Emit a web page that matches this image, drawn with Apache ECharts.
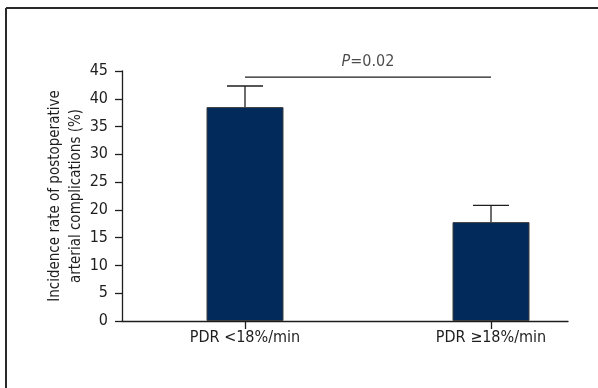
<!DOCTYPE html>
<html>
<head>
<meta charset="utf-8">
<script src="https://cdn.jsdelivr.net/npm/echarts@6/dist/echarts.min.js"></script>
<style>
html,body{margin:0;padding:0;background:#fff;}
#chart{width:598px;height:388px;}
</style>
</head>
<body>
<div id="chart"></div>
<script>
const categories = ['PDR <18%/min', 'PDR \u226518%/min'];
const positions = [0, 1];
const means = [38.5, 17.8];
const errorUpper = [42.3, 20.8];
const yTicks = [0, 5, 10, 15, 20, 25, 30, 35, 40, 45];
const sigFrom = 0, sigTo = 1, sigY = 43.9;
const sigText = 'P=0.02';

const FONT = "'Liberation Sans Narrow', 'DejaVu Sans Condensed', 'Arial Narrow', sans-serif";
const INK = '#1e1e1e';

const chart = echarts.init(document.getElementById('chart'), null, {renderer: 'canvas'});

const barData = positions.map((p, i) => [p, means[i]]);
const errData = positions.map((p, i) => [p, means[i], errorUpper[i]]);

chart.setOption({
  animation: false,
  backgroundColor: '#fff',
  grid: {left: 122, top: 71, right: 30, bottom: 67},
  xAxis: {
    type: 'value',
    min: -0.5,
    max: 1.313,
    axisLine: {show: true, onZero: false, lineStyle: {color: INK, width: 1.3}},
    axisTick: {show: true, customValues: positions, length: 8, lineStyle: {color: INK, width: 1.3}},
    axisLabel: {
      customValues: positions,
      formatter: v => categories[Math.round(v)] || '',
      fontFamily: FONT, fontSize: 16, color: INK, margin: 9
    },
    splitLine: {show: false}
  },
  yAxis: {
    type: 'value',
    min: 0, max: 45, interval: 5,
    name: 'Incidence rate of postoperative\narterial complications (%)',
    nameLocation: 'middle',
    nameGap: 35,
    nameMoveOverlap: false,
    nameRotate: 90,
    nameTextStyle: {fontFamily: FONT, fontSize: 15, color: INK, lineHeight: 21.5},
    axisLine: {show: true, onZero: false, lineStyle: {color: INK, width: 1.3}},
    axisTick: {show: true, inside: false, length: 7, lineStyle: {color: INK, width: 1.3}},
    axisLabel: {fontFamily: FONT, fontSize: 16, color: INK, margin: 14,
      formatter: v => yTicks.includes(v) ? String(v) : ''},
    splitLine: {show: false}
  },
  series: [
    {
      type: 'custom',
      z: 1,
      renderItem: function (params, api) {
        const x = api.value(0);
        const top = api.coord([x, api.value(2)]);
        const base = api.coord([x, api.value(1)]);
        const half = 18;
        const style = {stroke: INK, lineWidth: 1.3};
        return {
          type: 'group',
          children: [
            {type: 'line', shape: {x1: top[0], y1: top[1], x2: base[0], y2: base[1]}, style: style},
            {type: 'line', shape: {x1: top[0] - half, y1: top[1], x2: top[0] + half, y2: top[1]}, style: style}
          ]
        };
      },
      data: errData
    },
    {
      type: 'bar',
      z: 2,
      barWidth: 77,
      itemStyle: {color: '#022a5b', borderColor: '#3d3d3d', borderWidth: 1},
      data: barData
    },
    {
      type: 'line',
      symbol: 'none',
      lineStyle: {color: INK, width: 1.3},
      data: [[sigFrom, sigY], [sigTo, sigY]],
      silent: true
    },
    {
      type: 'scatter',
      symbolSize: 0,
      data: [[(sigFrom + sigTo) / 2, sigY]],
      label: {
        show: true,
        position: 'top',
        distance: 7,
        formatter: function () {
          const parts = sigText.split('=');
          return '{i|' + parts[0] + '}{n|=' + parts[1] + '}';
        },
        rich: {
          i: {fontFamily: FONT, fontSize: 16, fontStyle: 'italic', color: INK},
          n: {fontFamily: FONT, fontSize: 16, color: INK}
        }
      },
      silent: true
    }
  ],
  graphic: [
    {type: 'line', shape: {x1: 6, y1: 8, x2: 598, y2: 8}, style: {stroke: '#2a2a2a', lineWidth: 2}},
    {type: 'line', shape: {x1: 6, y1: 8, x2: 6, y2: 388}, style: {stroke: '#2a2a2a', lineWidth: 2}}
  ]
});
</script>
</body>
</html>
